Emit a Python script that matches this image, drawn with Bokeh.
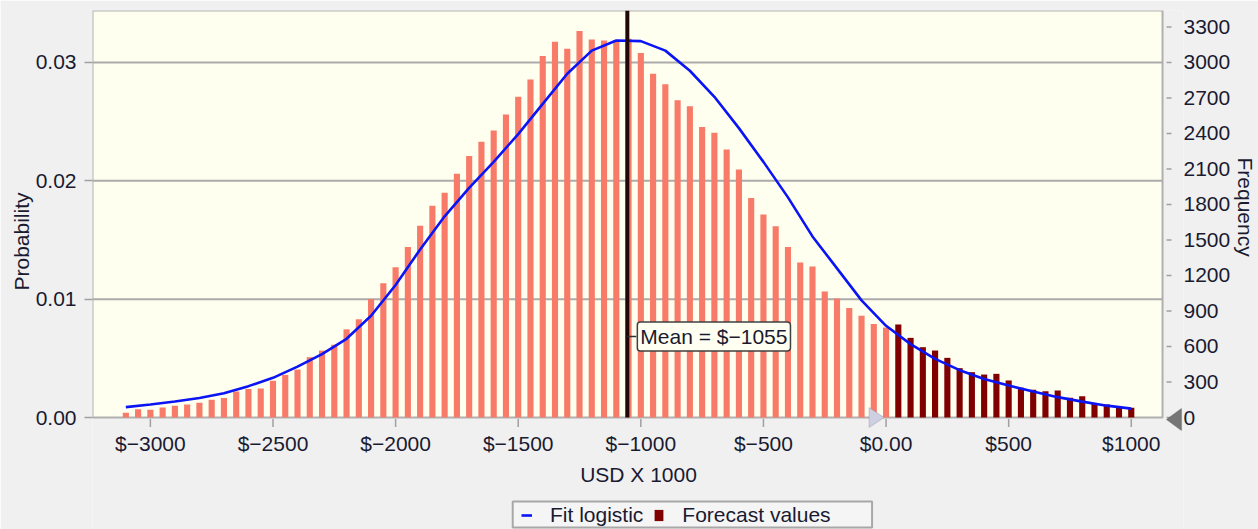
from bokeh.plotting import figure
from bokeh.models import (Range1d, LinearAxis, FixedTicker, Label, Legend,
                          LegendItem, PolyAnnotation, ColumnDataSource, Title)
from bokeh.core.properties import value
from bokeh.embed import file_html
from bokeh.resources import INLINE

# ---- forecast data -------------------------------------------------------
TRIALS = 100000
BIN_WIDTH = 50
bin_centers = list(range(-3100, 1001, BIN_WIDTH))
frequency = [
    40, 70, 65, 85, 100, 110, 125, 150, 165, 220,
    240, 245, 310, 360, 405, 510, 565, 615, 745, 830,
    1000, 1135, 1270, 1440, 1620, 1790, 1900, 2060, 2210, 2330,
    2425, 2560, 2710, 2855, 3055, 3175, 3115, 3265, 3195, 3185,
    3190, 3200, 3080, 2905, 2815, 2680, 2630, 2455, 2405, 2265,
    2095, 1855, 1715, 1615, 1440, 1310, 1275, 1065, 1005, 925,
    860, 790, 760, 786, 673, 594, 566, 504, 417, 383,
    363, 369, 313, 251, 234, 222, 228, 166, 180, 118,
    110, 93, 82,
]

# fitted logistic distribution, in trials per bin
fit_x = list(range(-3100, 1001, 100))
fit_freq = [
    88, 110, 135, 165, 205, 265, 335, 430, 535, 665,
    860, 1120, 1420, 1700, 1940, 2160, 2395, 2650, 2905, 3100,
    3185, 3180, 3100, 2930, 2710, 2445, 2160, 1860, 1530, 1260,
    990, 775, 620, 495, 400, 325, 270, 220, 172, 134,
    100, 75,
]

mean_value = -1055
certainty_min = 0

x_ticks = [-3000, -2500, -2000, -1500, -1000, -500, 0, 500, 1000]
x_tick_labels = ["$\u22123000", "$\u22122500", "$\u22122000", "$\u22121500",
                 "$\u22121000", "$\u2212500", "$0.00", "$500", "$1000"]
prob_ticks = [0.0, 0.01, 0.02, 0.03]
prob_tick_labels = ["0.00", "0.01", "0.02", "0.03"]
freq_ticks = list(range(0, 3301, 300))

# ---- style -----------------------------------------------------------------
FONT = "Liberation Sans"
FS = "21px"
TEXT = "#1a1a30"
SALMON = "#f87a68"
MAROON = "#800000"
GRID = "#ababab"
TICK = "#a0a0a0"
PAGE = "#f0f0f0"

W, H = 1258, 529
# chart box (cream area) in pixels
BOX_L, BOX_R, BOX_T, BOX_B = 92, 1164, 10, 417
# the drawing frame runs to the page bottom so the x labels and legend live in it
FRAME_R, FRAME_B = 1185, H

X_MIN, X_BOX_MAX = -3236, 1127.5
P_MAX = 0.03439
px_x = (X_BOX_MAX - X_MIN) / (BOX_R - BOX_L)     # data units per pixel
px_y = P_MAX / (BOX_B - BOX_T)
X_MAX = X_BOX_MAX + (FRAME_R - BOX_R) * px_x
P_MIN = -(FRAME_B - BOX_B) * px_y


def sx(px):
    """horizontal page pixel -> data x"""
    return X_MIN + (px - BOX_L) * px_x


def sy(py):
    """vertical page pixel -> probability"""
    return (BOX_B - py) * px_y


p = figure(width=W, height=H, output_backend="svg", toolbar_location=None,
           x_range=Range1d(X_MIN, X_MAX), y_range=Range1d(P_MIN, P_MAX),
           x_axis_location=None,
           min_border_left=BOX_L, min_border_right=W - FRAME_R,
           min_border_top=BOX_T, min_border_bottom=0,
           background_fill_color=PAGE, border_fill_color=PAGE)
p.extra_y_ranges = {"freq": Range1d(P_MIN * TRIALS, P_MAX * TRIALS)}
p.outline_line_color = None
p.grid.visible = False

# cream chart box with its grey border
p.quad(left=[X_MIN], right=[X_BOX_MAX], bottom=[0], top=[P_MAX],
       fill_color="#fffff0", line_color="#b0b0b0", line_width=2)

# horizontal grid lines at the probability ticks
grid_y = [t for t in prob_ticks if t > 0]
p.segment(x0=[X_MIN] * len(grid_y), x1=[X_BOX_MAX] * len(grid_y),
          y0=grid_y, y1=grid_y, line_color=GRID, line_width=2)

# x axis: tick marks and labels under the box
p.segment(x0=x_ticks, x1=x_ticks, y0=[sy(418.5)] * len(x_ticks),
          y1=[sy(426.5)] * len(x_ticks), line_color=TICK, line_width=1.5)
p.text(x=x_ticks, y=[sy(431)] * len(x_ticks), text=x_tick_labels,
       text_align="center", text_baseline="top", text_font=value(FONT),
       text_font_size=value(FS), text_color=TEXT)
p.text(x=[sx(639)], y=[sy(462)], text=["USD X 1000"], text_align="center",
       text_baseline="top", text_font=value(FONT), text_font_size=value(FS),
       text_color=TEXT)

# frequency tick marks right of the box
p.segment(x0=[sx(BOX_R + 4)] * len(freq_ticks),
          x1=[sx(BOX_R + 9)] * len(freq_ticks),
          y0=freq_ticks, y1=freq_ticks, line_color=TICK, line_width=1.5,
          y_range_name="freq")

# histogram bars
below = [(c, f) for c, f in zip(bin_centers, frequency) if c <= certainty_min]
above = [(c, f) for c, f in zip(bin_centers, frequency) if c > certainty_min]
src_lo = ColumnDataSource(dict(x=[c for c, _ in below], top=[f for _, f in below]))
src_hi = ColumnDataSource(dict(x=[c for c, _ in above], top=[f for _, f in above]))
p.vbar(x="x", top="top", width=25, source=src_lo, fill_color=SALMON,
       line_color=None, y_range_name="freq")
bars_hi = p.vbar(x="x", top="top", width=25, source=src_hi, fill_color=MAROON,
                 line_color=None, y_range_name="freq")

# fitted curve
fit = p.line(fit_x, fit_freq, line_color="#0a14f5", line_width=2.6,
             y_range_name="freq")

# mean marker
p.segment(x0=[mean_value], x1=[mean_value], y0=[0], y1=[P_MAX],
          line_color="#200808", line_width=4)
label_y = sy(336)
p.segment(x0=[mean_value], y0=[label_y], x1=[mean_value + 9 * px_x],
          y1=[label_y], line_color="#303030", line_width=1.5)
p.add_layout(Label(x=mean_value, y=label_y, x_offset=10,
                   text="Mean = $\u22121055", text_baseline="middle",
                   text_font=FONT, text_font_size=FS, text_color=TEXT,
                   background_fill_color="#fffff2", border_line_color="#404040",
                   border_line_width=1.5, padding=3, border_radius=3))

# certainty range grabbers
tip = certainty_min - 2 * px_x
p.add_layout(PolyAnnotation(
    xs=[tip - 15 * px_x, tip - 15 * px_x, tip],
    ys=[10 * px_y, -10 * px_y, 0],
    fill_color="#cfcfe4", fill_alpha=1, line_color="#8a8aa0", line_width=1.2))
rtip = sx(BOX_R + 4)
p.add_layout(PolyAnnotation(
    xs=[rtip, rtip + 15 * px_x, rtip + 15 * px_x],
    ys=[-2 * px_y, 9 * px_y, -13 * px_y],
    fill_color="#767676", fill_alpha=1, line_color="#505050", line_width=1.2))

# legend frame, then the legend entries on top of it
p.quad(left=[sx(513)], right=[sx(873)], top=[sy(501)], bottom=[sy(527)],
       fill_color="#f5f5f5", line_color="#a8a8a8", line_width=2)
legend = Legend(items=[LegendItem(label="Fit logistic", renderers=[fit]),
                       LegendItem(label="Forecast values", renderers=[bars_hi])],
                orientation="horizontal", location=(429, 2),
                glyph_width=11, glyph_height=14, label_standoff=18, spacing=10,
                padding=0, margin=0, border_line_color=None,
                background_fill_color=None, background_fill_alpha=0,
                label_text_font=FONT, label_text_font_size=FS,
                label_text_color=TEXT)
p.add_layout(legend, "center")


def style_axis(ax):
    ax.axis_line_color = None
    ax.minor_tick_line_color = None
    ax.major_label_text_font = FONT
    ax.major_label_text_font_size = FS
    ax.major_label_text_color = TEXT


ya = p.yaxis[0]
style_axis(ya)
ya.ticker = FixedTicker(ticks=prob_ticks)
ya.major_label_overrides = dict(zip(prob_ticks, prob_tick_labels))
ya.major_tick_line_color = TICK
ya.major_tick_line_width = 1.5
ya.major_tick_in = 0
ya.major_tick_out = 8
ya.major_label_standoff = 8

right = LinearAxis(y_range_name="freq", ticker=FixedTicker(ticks=freq_ticks))
style_axis(right)
right.major_tick_line_color = None
right.major_tick_in = 0
right.major_tick_out = 0
right.major_label_standoff = 0
p.add_layout(right, "right")

# axis titles, placed by their distance from the top of the side panels
p.add_layout(Title(text="Probability", align="right", offset=192 - BOX_T,
                   standoff=0, text_font=FONT, text_font_size=FS,
                   text_font_style="normal", text_color=TEXT), "left")
p.add_layout(Title(text="Frequency", align="left", offset=157 - BOX_T,
                   standoff=0, text_font=FONT, text_font_size=FS,
                   text_font_style="normal", text_color=TEXT), "right")

with open("out.html", "w") as fh:
    fh.write(file_html(p, INLINE))
